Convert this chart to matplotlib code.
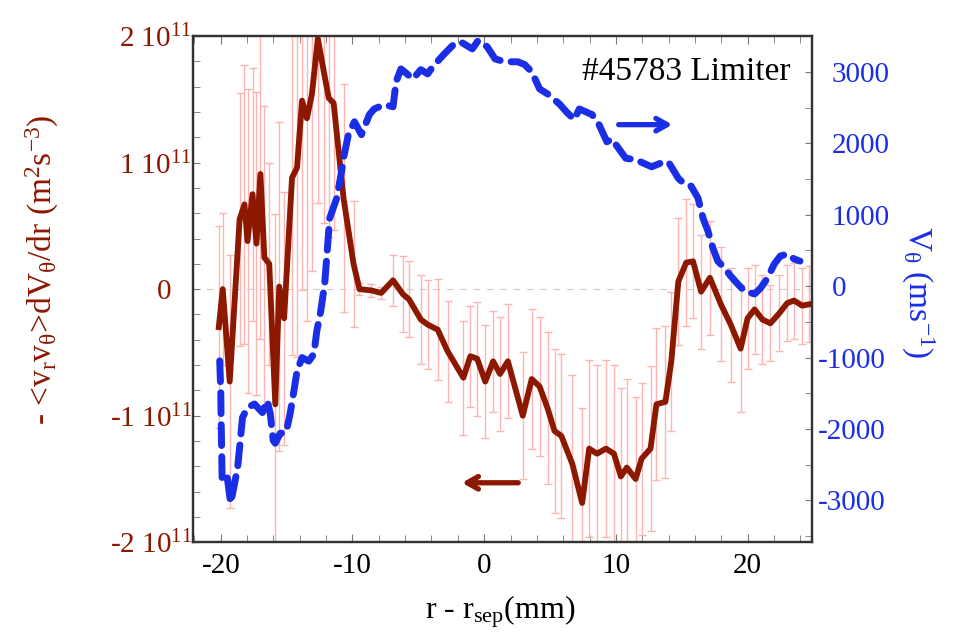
import numpy as np
import matplotlib
matplotlib.use('Agg')
from matplotlib import pyplot as plt
from matplotlib.ticker import MultipleLocator
from matplotlib.transforms import ScaledTranslation

plt.rcParams['font.family'] = ['Liberation Serif', 'DejaVu Serif']
plt.rcParams['mathtext.default'] = 'regular'
plt.rcParams['axes.unicode_minus'] = False

# Reynolds stress term (units of 1e11 m^2 s^-3) vs r - r_sep (mm)
r_flux = [-20.15, -19.85, -19.32, -18.57, -18.20, -17.97, -17.59, -17.29, -16.99, -16.69,
          -16.32, -15.86, -15.56, -15.19, -14.59, -14.21, -13.83, -13.46, -13.08, -12.63,
          -12.18, -11.80, -11.43, -10.68, -9.92, -9.47, -8.57, -7.82, -6.92, -6.17,
          -5.71, -4.81, -4.29, -3.53, -2.78, -1.58, -1.05, -0.53, 0.08, 0.68,
          1.20, 1.80, 2.93, 3.61, 4.21, 4.81, 5.34, 5.86, 6.69, 7.44,
          7.97, 8.57, 9.25, 9.85, 10.38, 10.83, 11.50, 11.95, 12.63, 13.08,
          13.76, 14.21, 14.74, 15.34, 15.86, 16.47, 17.14, 17.97, 18.72, 19.47,
          20.00, 20.53, 21.13, 21.73, 22.41, 23.01, 23.53, 24.14, 24.66]
flux = [-0.30, 0.00, -0.73, 0.55, 0.67, 0.38, 0.75, 0.36, 0.91, 0.25,
        0.20, -0.91, 0.02, -0.23, 0.88, 0.96, 1.49, 1.35, 1.54, 1.98,
        1.72, 1.51, 1.47, 0.72, 0.20, 0.00, -0.01, -0.03, 0.07, -0.04,
        -0.08, -0.24, -0.28, -0.32, -0.49, -0.70, -0.53, -0.55, -0.73, -0.57,
        -0.67, -0.57, -1.00, -0.71, -0.77, -0.94, -1.12, -1.16, -1.38, -1.69,
        -1.26, -1.30, -1.26, -1.30, -1.48, -1.41, -1.50, -1.34, -1.26, -0.91,
        -0.89, -0.57, 0.06, 0.21, 0.22, -0.02, 0.09, -0.12, -0.28, -0.47,
        -0.23, -0.16, -0.24, -0.27, -0.19, -0.11, -0.09, -0.13, -0.12]
flux_err = [0.8, 0.6, 1.0, 1.0, 1.1, 1.2, 1.0, 1.2, 1.3, 1.2,
            0.8, 1.5, 1.3, 1.0, 1.4, 1.5, 1.5, 1.6, 1.4, 1.3,
            1.2, 1.1, 1.0, 0.9, 0.5, 0.05, 0.05, 0.05, 0.2, 0.3,
            0.3, 0.35, 0.35, 0.4, 0.4, 0.45, 0.4, 0.45, 0.45, 0.4,
            0.45, 0.45, 0.5, 0.55, 0.55, 0.6, 0.65, 0.65, 0.7, 0.75,
            0.7, 0.7, 0.7, 0.7, 0.7, 0.7, 0.65, 0.6, 0.65, 0.6,
            0.6, 0.55, 0.5, 0.5, 0.45, 0.45, 0.45, 0.45, 0.45, 0.5,
            0.4, 0.35, 0.35, 0.3, 0.3, 0.3, 0.3, 0.3, 0.3]

# poloidal velocity (m/s)
r_vel = [-20.08, -20.00, -19.98, -19.92, -19.90, -19.55, -19.25, -18.95, -18.72, -18.57,
         -18.35, -17.97, -17.44, -16.84, -16.47, -16.24, -16.02, -15.86, -15.49, -15.04,
         -14.74, -14.44, -14.21, -13.83, -13.31, -12.93, -12.71, -12.41, -12.11, -11.73,
         -11.20, -10.83, -10.68, -10.30, -9.85, -9.32, -8.72, -8.35, -7.59, -6.92,
         -6.69, -6.32, -5.79, -5.41, -4.81, -4.29, -3.91, -3.08, -2.33, -1.80,
         -0.90, -0.45, 0.23, 0.83, 1.58, 2.56, 3.08, 3.61, 4.21, 4.81,
         5.71, 6.24, 6.84, 7.22, 8.20, 8.72, 9.32, 9.70, 10.00, 10.75,
         11.50, 12.71, 13.38, 13.98, 14.74, 15.26, 15.71, 16.24, 16.62, 16.99,
         17.37, 17.74, 18.27, 18.72, 19.25, 19.77, 20.53, 20.98, 21.50, 22.03,
         22.48, 23.01, 23.53, 23.98]
v_theta = [-1046, -1464, -1785, -2440, -2680, -2620, -3040, -2760, -2540, -2260,
           -1840, -1700, -1650, -1770, -1600, -1790, -2160, -2200, -2060, -2050,
           -1790, -1460, -1190, -1000, -1050, -950, -630, -350, 30, 950,
           1230, 1600, 1790, 2130, 2300, 2120, 2400, 2480, 2540, 2510,
           2860, 3040, 2960, 2900, 3030, 2970, 3070, 3240, 3380, 3420,
           3320, 3440, 3350, 3180, 3140, 3140, 3100, 3000, 2760, 2690,
           2550, 2440, 2330, 2480, 2400, 2260, 2020, 2060, 1980, 1790,
           1770, 1670, 1720, 1740, 1510, 1420, 1400, 1230, 950, 770,
           530, 350, 250, 140, 30, -70, -110, -30, 110, 310,
           420, 450, 380, 350]

left_ticks = [-2e11, -1e11, 0, 1e11, 2e11]
left_labels = ['-2 10$^{11}$', '-1 10$^{11}$', '0', '1 10$^{11}$', '2 10$^{11}$']
right_ticks = [-3000, -2000, -1000, 0, 1000, 2000, 3000]
right_labels = ['-3000', '-2000', '-1000', '0', '1000', '2000', '3000']

red = '#8c1800'
blue = '#1a2ee6'
pink = '#ffb3b3'

fig = plt.figure(figsize=(9.56, 6.44), dpi=100)
ax = fig.add_axes([0.202, 0.158, 0.6475, 0.786])
ax2 = ax.twinx()

flux = np.array(flux) * 1e11
flux_err = np.array(flux_err) * 1e11

ax.axhline(0, color='#cccccc', lw=0.8, ls=(0, (6, 6)), zorder=1)
ax.errorbar(r_flux, flux, yerr=flux_err, fmt='none', ecolor=pink,
            elinewidth=1, capsize=3, capthick=1, zorder=2)
ax.plot(r_flux, flux, color=red, lw=4.2, solid_joinstyle='round', zorder=3)
ax2.plot(r_vel, v_theta, color=blue, lw=5, ls=(0, (3, 1.6)),
         dash_capstyle='round')

ax.annotate('', xy=(-1.9, -1.53e11), xytext=(2.8, -1.53e11),
            arrowprops=dict(arrowstyle='->,head_length=0.8,head_width=0.45',
                            color=red, lw=3.8))
ax2.annotate('', xy=(14.5, 2260), xytext=(10.0, 2260),
             arrowprops=dict(arrowstyle='->,head_length=0.8,head_width=0.45',
                             color=blue, lw=3.8))

ax.set_xlim(-22.1, 24.9)
ax.set_ylim(-2e11, 2e11)
ax2.set_ylim(-3585, 3500)

ax.xaxis.set_major_locator(MultipleLocator(10))
ax.xaxis.set_minor_locator(MultipleLocator(2))
ax.set_yticks(left_ticks)
ax.set_yticklabels(left_labels)
ax.yaxis.set_minor_locator(MultipleLocator(2e10))
ax2.set_yticks(right_ticks)
ax2.set_yticklabels(right_labels)
ax2.yaxis.set_minor_locator(MultipleLocator(500))

ax.tick_params(axis='x', which='both', top=True, direction='in',
               color='#777777', labelsize=21, pad=8)
ax.tick_params(axis='x', which='major', length=6)
ax.tick_params(axis='x', which='minor', length=5)
ax.tick_params(axis='y', which='both', direction='in', color='#777777',
               labelcolor=red, labelsize=21, pad=1, length=5)
ax2.tick_params(axis='y', which='both', direction='in', color='#777777',
                labelcolor=blue, labelsize=21, pad=14, length=5)

# zero label sits left of the exponent column; minus signs hang out on the right axis
zero_tick = ax.yaxis.get_major_ticks()[2].label1
zero_tick.set_transform(zero_tick.get_transform() +
                        ScaledTranslation(-0.2, 0, fig.dpi_scale_trans))
for t, v in zip(ax2.yaxis.get_major_ticks(), right_ticks):
    if v < 0:
        lab = t.label2
        lab.set_transform(lab.get_transform() +
                          ScaledTranslation(-0.14, 0, fig.dpi_scale_trans))

for a in (ax, ax2):
    for s in a.spines.values():
        s.set_linewidth(1.6)
        s.set_color('#333333')

ax.text(0.965, 0.93, '#45783 Limiter', transform=ax.transAxes,
        ha='right', va='center', fontsize=24)

fig.text(500 / 956, 1 - 612 / 644, 'r - r$_{sep}$(mm)', ha='center', va='center',
         fontsize=23)
fig.text(42 / 956, 1 - 270 / 644,
         '- <v$_r$v$_\\theta$>dV$_\\theta$/dr (m$^2$s$^{-3}$)',
         rotation=90, ha='center', va='center', fontsize=24, color=red)
fig.text(918 / 956, 1 - 292 / 644, 'V$_\\theta$ (ms$^{-1}$)',
         rotation=-90, ha='center', va='center', fontsize=24, color=blue)

fig.savefig('out.png', dpi=100)
